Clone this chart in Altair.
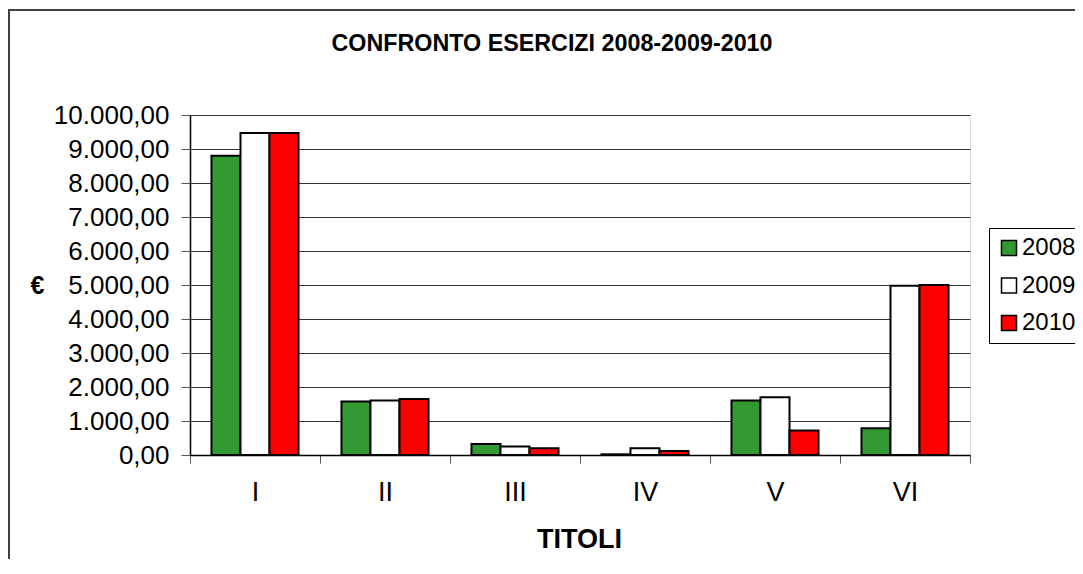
import altair as alt
import pandas as pd

categorie = ["I", "II", "III", "IV", "V", "VI"]
anni = ["2008", "2009", "2010"]
v2008 = [8800, 1570, 320, 20, 1600, 790]
v2009 = [9470, 1600, 250, 200, 1700, 4980]
v2010 = [9470, 1650, 200, 120, 720, 5000]
colori = ["#339933", "#FFFFFF", "#FF0000"]
y_ticks = [0, 1000, 2000, 3000, 4000, 5000, 6000, 7000, 8000, 9000, 10000]
titolo_grafico = "CONFRONTO ESERCIZI 2008-2009-2010"

rows = []
for anno, vals in zip(anni, [v2008, v2009, v2010]):
    for c, v in zip(categorie, vals):
        rows.append({"titolo": c, "anno": anno, "valore": v})
df = pd.DataFrame(rows)

FONT = "Liberation Sans"
label_expr = ("replace(replace(replace(format(datum.value, ',.2f'), ',', ';'), "
              "'.', ','), ';', '.')")

bars = alt.Chart(df).mark_bar(stroke="black", strokeWidth=2).encode(
    x=alt.X(
        "titolo:N", sort=categorie,
        scale=alt.Scale(paddingInner=0, paddingOuter=0),
        axis=alt.Axis(
            title="TITOLI", labelAngle=0, labelFontSize=27, labelFont=FONT,
            labelColor="black", labelPadding=16, tickBand="extent", tickSize=8,
            tickColor="#555555", domainColor="black", domainWidth=1.5,
            titleFont=FONT, titleFontSize=27, titleFontWeight="bold",
            titleColor="black", titleX=389, titleY=84, titleBaseline="middle",
            titleAlign="center", grid=False,
        ),
    ),
    xOffset=alt.XOffset("anno:N", sort=anni,
                        scale=alt.Scale(paddingInner=0, paddingOuter=0.74)),
    y=alt.Y(
        "valore:Q",
        scale=alt.Scale(domain=[0, 10000], nice=False),
        axis=alt.Axis(
            title="€", values=y_ticks, labelExpr=label_expr, labelFontSize=26,
            labelFont=FONT, labelColor="black", labelPadding=12, tickSize=9,
            tickColor="#555555", domainColor="black", domainWidth=1.5,
            gridColor="#333333", gridWidth=1,
            titleFont=FONT, titleFontSize=25, titleFontWeight="bold",
            titleColor="black", titleAngle=0, titleX=-153, titleY=170.5,
            titleAlign="center", titleBaseline="middle",
        ),
    ),
    color=alt.Color(
        "anno:N", sort=anni,
        scale=alt.Scale(domain=anni, range=colori),
        legend=alt.Legend(
            title=None, orient="none", legendX=799, legendY=113,
            strokeColor="black", fillColor="white", padding=8,
            symbolType="square", symbolSize=225, symbolStrokeColor="black",
            symbolStrokeWidth=1.5, symbolOpacity=1, labelFontSize=24,
            labelFont=FONT, labelColor="black", labelOffset=1, rowPadding=13.5,
        ),
    ),
)

border = alt.Chart(pd.DataFrame({"a": [0]})).mark_rect(
    fill="transparent", stroke="#404040", strokeWidth=2
).encode(
    x=alt.value(-181), x2=alt.value(1200), y=alt.value(-105), y2=alt.value(700)
)

title = alt.Chart(pd.DataFrame({"t": [titolo_grafico]})).mark_text(
    font=FONT, fontSize=23.3, fontWeight="bold", color="black",
    align="center", baseline="alphabetic"
).encode(
    text="t:N", x=alt.value(362), y=alt.value(-64)
)

chart = alt.layer(border, bars, title).properties(
    width=780,
    height=340,
    autosize=alt.AutoSizeParams(type="none"),
    padding={"left": 182, "top": 107, "right": 105, "bottom": 104},
).configure_view(
    fill="#C0C0C0", stroke="#A0A0A0", strokeWidth=2
).configure(background="white")

chart.save("out.html", embed_options={"renderer": "svg", "actions": False})
